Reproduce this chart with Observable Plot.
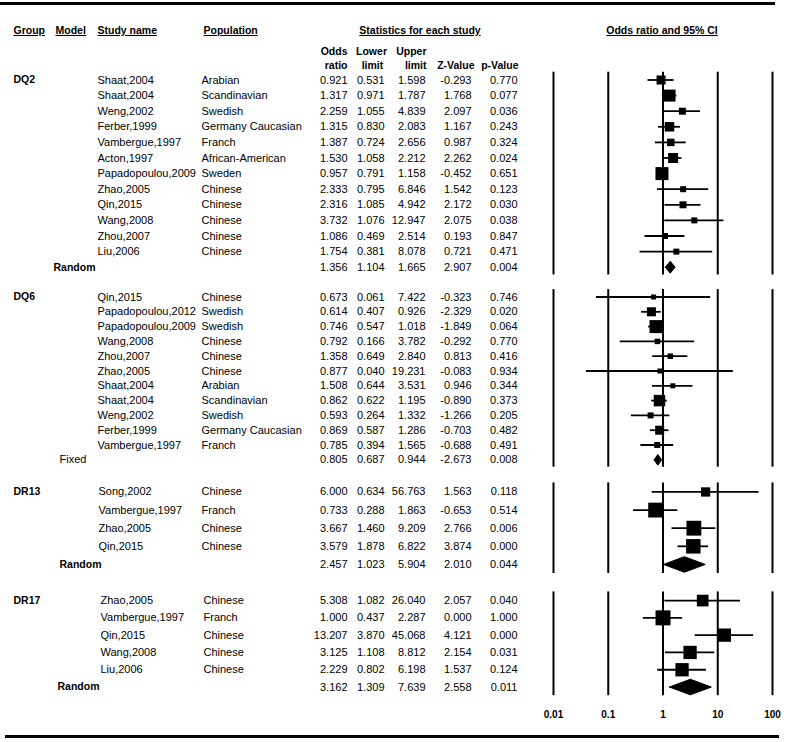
<!DOCTYPE html>
<html>
<head>
<meta charset="utf-8">
<script src="https://cdn.jsdelivr.net/npm/d3@7"></script>
<script src="https://cdn.jsdelivr.net/npm/@observablehq/plot@0.6"></script>
<style>
  body { margin: 0; background: #fff; }
  #wrap { position: relative; width: 787px; height: 742px; background: #fff;
          font-family: "Liberation Sans", Arial, sans-serif; }
  #wrap svg { position: absolute; left: 0; top: 0; }
  .hr { position: absolute; background: #000; }
</style>
</head>
<body>
<div id="wrap"></div>
<script>
// ---------------- DATA ----------------
const groups = ["DQ2", "DQ6", "DR13", "DR17"];
const models = ["Random", "Fixed", "Random", "Random"];

const dq2Study = ["Shaat,2004", "Shaat,2004", "Weng,2002", "Ferber,1999", "Vambergue,1997", "Acton,1997",
  "Papadopoulou,2009", "Zhao,2005", "Qin,2015", "Wang,2008", "Zhou,2007", "Liu,2006"];
const dq2Population = ["Arabian", "Scandinavian", "Swedish", "Germany Caucasian", "Franch", "African-American",
  "Sweden", "Chinese", "Chinese", "Chinese", "Chinese", "Chinese"];
const dq2OR    = [0.921, 1.317, 2.259, 1.315, 1.387, 1.530, 0.957, 2.333, 2.316, 3.732, 1.086, 1.754];
const dq2Lower = [0.531, 0.971, 1.055, 0.830, 0.724, 1.058, 0.791, 0.795, 1.085, 1.076, 0.469, 0.381];
const dq2Upper = [1.598, 1.787, 4.839, 2.083, 2.656, 2.212, 1.158, 6.846, 4.942, 12.947, 2.514, 8.078];
const dq2Z     = [-0.293, 1.768, 2.097, 1.167, 0.987, 2.262, -0.452, 1.542, 2.172, 2.075, 0.193, 0.721];
const dq2P     = [0.770, 0.077, 0.036, 0.243, 0.324, 0.024, 0.651, 0.123, 0.030, 0.038, 0.847, 0.471];
const dq2Weight = [8.1, 14.4, 4.9, 9.0, 5.6, 10.0, 16.9, 3.6, 4.9, 3.6, 3.6, 3.6];

const dq6Study = ["Qin,2015", "Papadopoulou,2012", "Papadopoulou,2009", "Wang,2008", "Zhou,2007", "Zhao,2005",
  "Shaat,2004", "Shaat,2004", "Weng,2002", "Ferber,1999", "Vambergue,1997"];
const dq6Population = ["Chinese", "Swedish", "Swedish", "Chinese", "Chinese", "Chinese",
  "Arabian", "Scandinavian", "Swedish", "Germany Caucasian", "Franch"];
const dq6OR    = [0.673, 0.614, 0.746, 0.792, 1.358, 0.877, 1.508, 0.862, 0.593, 0.869, 0.785];
const dq6Lower = [0.061, 0.407, 0.547, 0.166, 0.649, 0.040, 0.644, 0.622, 0.264, 0.587, 0.394];
const dq6Upper = [7.422, 0.926, 1.018, 3.782, 2.840, 19.231, 3.531, 1.195, 1.332, 1.286, 1.565];
const dq6Z     = [-0.323, -2.329, -1.849, -0.292, 0.813, -0.083, 0.946, -0.890, -1.266, -0.703, -0.688];
const dq6P     = [0.746, 0.020, 0.064, 0.770, 0.416, 0.934, 0.344, 0.373, 0.205, 0.482, 0.491];
const dq6Weight = [2.5, 8.1, 16.9, 3.0, 3.0, 2.5, 2.5, 13.2, 3.6, 8.1, 3.6];

const dr13Study = ["Song,2002", "Vambergue,1997", "Zhao,2005", "Qin,2015"];
const dr13Population = ["Chinese", "Franch", "Chinese", "Chinese"];
const dr13OR    = [6.000, 0.733, 3.667, 3.579];
const dr13Lower = [0.634, 0.288, 1.460, 1.878];
const dr13Upper = [56.763, 1.863, 9.209, 6.822];
const dr13Z     = [1.563, -0.653, 2.766, 3.874];
const dr13P     = [0.118, 0.514, 0.006, 0.000];
const dr13Weight = [8.6, 22.0, 22.0, 21.0];

const dr17Study = ["Zhao,2005", "Vambergue,1997", "Qin,2015", "Wang,2008", "Liu,2006"];
const dr17Population = ["Chinese", "Franch", "Chinese", "Chinese", "Chinese"];
const dr17OR    = [5.308, 1.000, 13.207, 3.125, 2.229];
const dr17Lower = [1.082, 0.437, 3.870, 1.108, 0.802];
const dr17Upper = [26.040, 2.287, 45.068, 8.812, 6.198];
const dr17Z     = [2.057, 0.000, 4.121, 2.154, 1.537];
const dr17P     = [0.040, 1.000, 0.000, 0.031, 0.124];
const dr17Weight = [13.7, 22.5, 17.7, 17.7, 17.7];

const summaryOR    = [1.356, 0.805, 2.457, 3.162];
const summaryLower = [1.104, 0.687, 1.023, 1.309];
const summaryUpper = [1.665, 0.944, 5.904, 7.639];
const summaryZ     = [2.907, -2.673, 2.010, 2.558];
const summaryP     = [0.004, 0.008, 0.044, 0.011];

const ticks = [0.01, 0.1, 1, 10, 100];
const tickLabels = ["0.01", "0.1", "1", "10", "100"];

// ---------------- LAYOUT (pixels, not data) ----------------
const layout = {
  frames: [[71.7, 274.5], [289.1, 466.7], [482.4, 573], [591.4, 695.2]],
  diamondHalf: [0.38, 0.36, 0.43, 0.45],
  groupDx: 13,
  modelDx: [53, 59, 59, 57],
  studyDx: [97, 97, 98, 100],
  popDx: [201, 201, 201, 203],
  numEnd: {or: 347, lo: 384, hi: 425, z: 471, p: 517}
};

// ---------------- BUILD TABLES ----------------
const blockData = [
  {study: dq2Study, pop: dq2Population, or: dq2OR, lo: dq2Lower, hi: dq2Upper, z: dq2Z, p: dq2P, w: dq2Weight},
  {study: dq6Study, pop: dq6Population, or: dq6OR, lo: dq6Lower, hi: dq6Upper, z: dq6Z, p: dq6P, w: dq6Weight},
  {study: dr13Study, pop: dr13Population, or: dr13OR, lo: dr13Lower, hi: dr13Upper, z: dr13Z, p: dr13P, w: dr13Weight},
  {study: dr17Study, pop: dr17Population, or: dr17OR, lo: dr17Lower, hi: dr17Upper, z: dr17Z, p: dr17P, w: dr17Weight}
];

const rows = [], summaries = [], blocks = [];
let start = 0;
groups.forEach((g, b) => {
  const d = blockData[b];
  const n = d.study.length;
  blocks.push({b, start, end: start + n});
  d.study.forEach((s, i) => rows.push({
    b, row: start + i, study: s, pop: d.pop[i], or: d.or[i], lo: d.lo[i], hi: d.hi[i], z: d.z[i], p: d.p[i], w: d.w[i]
  }));
  summaries.push({b, row: start + n, first: start, group: g, model: models[b],
    or: summaryOR[b], lo: summaryLower[b], hi: summaryUpper[b], z: summaryZ[b], p: summaryP[b]});
  start += n + 2;
});
const allRows = rows.concat(summaries);

const yDomain = blocks.flatMap(k => [k.start - 0.5, k.end + 0.5]);
const yRange = layout.frames.flat();

const vLines = blocks.flatMap(k => ticks.map(t => ({x: t, y1: k.start - 0.5, y2: k.end + 0.5})));

const diamonds = summaries.flatMap(s => {
  const h = layout.diamondHalf[s.b];
  return [
    {b: s.b, x: s.lo, y: s.row},
    {b: s.b, x: s.or, y: s.row - h},
    {b: s.b, x: s.hi, y: s.row},
    {b: s.b, x: s.or, y: s.row + h},
    {b: s.b, x: s.lo, y: s.row}
  ];
});

const f3 = v => v.toFixed(3);
const BOLD = 10.5;

// ---------------- MARKS ----------------
const marks = [];

// header
const hdr = (label, dx, dy, anchor, size = BOLD) =>
  Plot.text([label], {text: d => d, frameAnchor: "top-left", dx, dy, textAnchor: anchor,
    fontWeight: "bold", fontSize: size, fill: "black"});
marks.push(
  hdr("Group", 13, 26, "start"),
  hdr("Model", 55, 26, "start"),
  hdr("Study name", 97, 26, "start"),
  hdr("Population", 203, 26, "start"),
  hdr("Statistics for each study", 419.5, 26, "middle"),
  hdr("Odds ratio and 95% CI", 661.5, 26, "middle"),
  hdr("Odds", 347, 47, "end"),
  hdr("ratio", 347, 61, "end"),
  hdr("Lower", 371, 47, "middle"),
  hdr("limit", 372, 61, "middle"),
  hdr("Upper", 426, 47, "end"),
  hdr("limit", 426, 61, "end"),
  hdr("Z-Value", 474, 61, "end"),
  hdr("p-Value", 518, 61, "end")
);

// vertical reference lines per block
marks.push(Plot.ruleX(vLines, {x: "x", y1: "y1", y2: "y2", stroke: "black", strokeWidth: 2}));

// confidence intervals
marks.push(Plot.ruleY(rows, {y: "row", x1: "lo", x2: "hi", stroke: "black", strokeWidth: 1.8}));

// weighted squares
marks.push(Plot.dot(rows, {x: "or", y: "row", r: "w", symbol: "square", fill: "black", stroke: null}));

// summary diamonds
marks.push(Plot.line(diamonds, {x: "x", y: "y", z: "b", fill: "black", stroke: "black", strokeWidth: 1, curve: "linear"}));

// per-block text columns
blocks.forEach((k, b) => {
  const bRows = rows.filter(r => r.b === b);
  const s = summaries.filter(r => r.b === b);
  marks.push(
    Plot.text(s, {y: "first", text: "group", frameAnchor: "left", dx: layout.groupDx, textAnchor: "start",
      fontWeight: "bold", fontSize: BOLD, fill: "black"}),
    Plot.text(s, {y: "row", text: "model", frameAnchor: "left", dx: layout.modelDx[b], textAnchor: "start",
      fontWeight: models[b] === "Random" ? "bold" : "normal", fontSize: models[b] === "Random" ? BOLD : 11, fill: "black"}),
    Plot.text(bRows, {y: "row", text: "study", frameAnchor: "left", dx: layout.studyDx[b], textAnchor: "start",
      fontSize: 11, fill: "black"}),
    Plot.text(bRows, {y: "row", text: "pop", frameAnchor: "left", dx: layout.popDx[b], textAnchor: "start",
      fontSize: 11, fill: "black"})
  );
});

// numeric columns
for (const key of ["or", "lo", "hi", "z", "p"]) {
  marks.push(Plot.text(allRows, {y: "row", text: d => f3(d[key]), frameAnchor: "left", dx: layout.numEnd[key],
    textAnchor: "end", fontSize: 11, fill: "black"}));
}

// axis labels
marks.push(Plot.text(ticks, {x: d => d, text: (d, i) => tickLabels[i], frameAnchor: "top", dy: 710,
  fontWeight: "bold", fontSize: 10, fill: "black"}));

const plot = Plot.plot({
  width: 787,
  height: 742,
  margin: 0,
  style: {fontFamily: '"Liberation Sans", Arial, sans-serif', fontSize: "11px", background: "transparent", color: "black", overflow: "visible"},
  x: {type: "log", domain: [0.01, 100], range: [553, 772], axis: null},
  y: {type: "linear", domain: yDomain, range: yRange, axis: null},
  r: {type: "sqrt", domain: [0, 10], range: [0, Math.sqrt(100 / Math.PI)]},
  marks
});

// underline column headers
const underlined = new Set(["Group", "Model", "Study name", "Population", "Statistics for each study", "Odds ratio and 95% CI"]);
d3.select(plot).selectAll("text").filter(function () { return underlined.has(this.textContent); })
  .style("text-decoration", "underline");

const wrap = document.getElementById("wrap");
wrap.appendChild(plot);

// top and bottom heavy rules
const topRule = document.createElement("div");
topRule.className = "hr";
Object.assign(topRule.style, {left: "0px", top: "2px", width: "775px", height: "3px"});
const botRule = document.createElement("div");
botRule.className = "hr";
Object.assign(botRule.style, {left: "5px", top: "735px", width: "774px", height: "3px"});
wrap.appendChild(topRule);
wrap.appendChild(botRule);
</script>
</body>
</html>
